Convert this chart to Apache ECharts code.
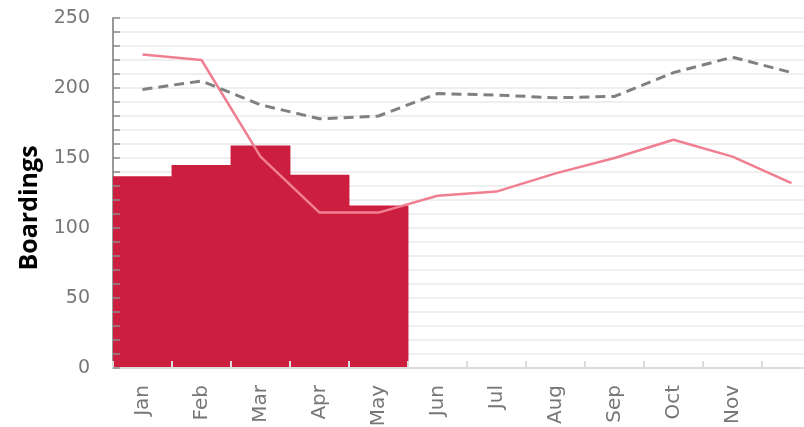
<!DOCTYPE html>
<html>
<head>
<meta charset="utf-8">
<script src="https://cdn.jsdelivr.net/npm/echarts@6/dist/echarts.min.js"></script>
<style>
  html, body { margin: 0; padding: 0; background: #fff; overflow: hidden; width: 804px; height: 427px; }
  #frame { position: absolute; left: 0; top: 0; width: 804px; height: 427px; overflow: hidden; }
  /* the plot runs a little past the right edge of the frame */
  #chart { position: absolute; left: 0; top: 0; width: 821px; height: 427px; }
</style>
</head>
<body>
<div id="frame"><div id="chart"></div></div>
<script>
// Months on the category axis (December's label is left blank)
const months = ['Jan', 'Feb', 'Mar', 'Apr', 'May', 'Jun', 'Jul', 'Aug', 'Sep', 'Oct', 'Nov', 'Dec'];
const monthLabels = ['Jan', 'Feb', 'Mar', 'Apr', 'May', 'Jun', 'Jul', 'Aug', 'Sep', 'Oct', 'Nov', ''];

// Boardings this year (reported months only)
const boardingsThisYear = [137, 145, 159, 138, 116, null, null, null, null, null, null, null];
// Boardings last year
const boardingsLastYear = [224, 220, 151, 111, 111, 123, 126, 139, 150, 163, 151, 132];
// Average boardings
const boardingsAverage = [199, 205, 188, 178, 180, 196, 195, 193, 194, 211, 222, 211];

const yMin = 0, yMax = 250, yStep = 50;

const labelFont = 'DejaVu Sans';
const chart = echarts.init(document.getElementById('chart'), null, { renderer: 'canvas', width: 821, height: 427 });

chart.setOption({
  animation: false,
  grid: { left: 113, right: 0, top: 18, bottom: 59, containLabel: false, outerBoundsMode: 'none' },
  xAxis: {
    type: 'category',
    data: months,
    z: 5,
    axisLine: { lineStyle: { color: '#dcdcdc', width: 2 } },
    axisTick: { show: true, inside: true, length: 7, lineStyle: { color: '#dcdcdc', width: 2 } },
    axisLabel: {
      rotate: 90,
      margin: 17,
      color: '#777',
      fontFamily: labelFont,
      fontSize: 20,
      formatter: (v, i) => monthLabels[i]
    },
    splitLine: { show: false }
  },
  yAxis: [
    {
      type: 'value',
      min: yMin, max: yMax, interval: yStep,
      name: 'Boardings',
      nameLocation: 'middle',
      nameGap: 70,
      nameRotate: 90,
      nameTextStyle: {
        color: '#000', fontFamily: 'Open Sans', fontWeight: 'bold', fontSize: 25,
        padding: [0, 30, 0, 0]
      },
      axisLine: { show: true, lineStyle: { color: '#999', width: 2 } },
      axisTick: { show: false },
      axisLabel: { color: '#777', fontFamily: labelFont, fontSize: 19, margin: 23 },
      splitLine: { show: true, lineStyle: { color: '#efefef', width: 2 } },
      minorTick: { show: false },
      minorSplitLine: { show: true, lineStyle: { color: '#efefef', width: 2 } },
      z: 0
    },
    {
      // tick marks drawn on top of the bars
      type: 'value',
      min: yMin, max: yMax, interval: yStep,
      position: 'left',
      z: 6,
      axisLine: { show: false },
      axisLabel: { show: false },
      axisTick: { show: true, inside: true, length: 7, lineStyle: { color: '#8c8c8c', width: 1.5 } },
      minorTick: { show: true, splitNumber: 5, length: 7, lineStyle: { color: '#8c8c8c', width: 1.5 } },
      splitLine: { show: false }
    }
  ],
  series: [
    {
      name: 'This year',
      type: 'bar',
      data: boardingsThisYear,
      barWidth: '101.5%',
      itemStyle: { color: '#cc1f40' },
      z: 2
    },
    {
      name: 'Last year',
      type: 'line',
      data: boardingsLastYear,
      symbol: 'none',
      lineStyle: { color: '#ef7f91', width: 2.5 },
      z: 4
    },
    {
      name: 'Average',
      type: 'line',
      data: boardingsAverage,
      symbol: 'none',
      lineStyle: { color: '#808080', width: 3, type: [10, 6] },
      z: 4
    }
  ]
});
</script>
</body>
</html>
